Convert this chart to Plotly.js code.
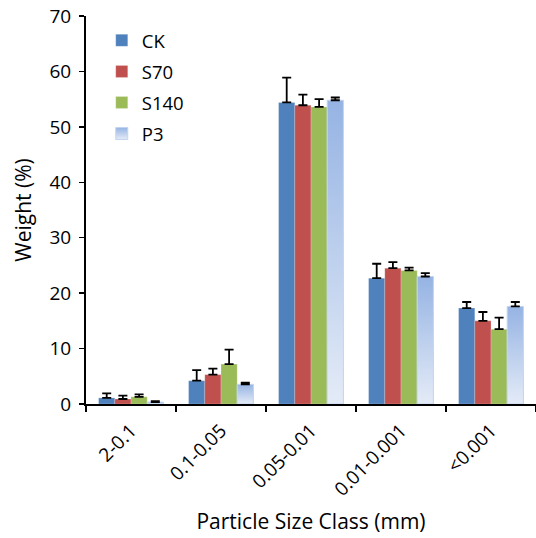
<!DOCTYPE html>
<html><head><meta charset="utf-8">
<script src="https://cdn.plot.ly/plotly-3.0.1.min.js"></script>
<style>html,body{margin:0;padding:0;background:#fff}#chart{width:536px;height:538px}</style>
</head><body><div id="chart"></div>
<script>
const categories = ['2-0.1','0.1-0.05','0.05-0.01','0.01-0.001','<0.001'];
const seriesNames = ['CK','S70','S140','P3'];
const ckValues   = [1.1, 4.2, 54.4, 22.7, 17.3];
const ckErrors   = [0.8, 1.9, 4.5, 2.6, 1.1];
const s70Values  = [0.9, 5.3, 53.9, 24.5, 15.0];
const s70Errors  = [0.6, 1.1, 1.9, 1.1, 1.6];
const s140Values = [1.3, 7.2, 53.6, 24.1, 13.5];
const s140Errors = [0.45, 2.6, 1.4, 0.5, 2.1];
const p3Values   = [0.35, 3.55, 54.8, 23.0, 17.6];
const p3Errors   = [0.15, 0.3, 0.5, 0.6, 0.8];
const colors = ['#4f81bd','#c0504d','#9bbb59','#b4c8ea'];

const vals = [ckValues, s70Values, s140Values, p3Values];
const errs = [ckErrors, s70Errors, s140Errors, p3Errors];
const FONT = '"Open Sans", "Noto Sans", sans-serif';

const traces = seriesNames.map((n,i)=>({
  type:'bar', name:n, x:categories, y:vals[i], legendgroup:'g'+i,
  marker:{color:colors[i], line:{color: i===3 ? '#c3d4ee' : 'rgba(255,255,255,0.35)', width: i===3?1:0.6}},
  error_y:{type:'data', array:errs[i], arrayminus:errs[i].map(()=>0), symmetric:false, color:'#000', thickness:1.8, width:4.5}
}));

const layout = {
  width:536, height:538,
  margin:{l:86, r:0, t:16, b:134},
  paper_bgcolor:'#fff', plot_bgcolor:'#fff',
  font:{family:FONT, color:'#000', size:18},
  barmode:'group', bargap:0.28, bargroupgap:0,
  showlegend:true,
  legend:{x:0.035, y:0.985, xanchor:'left', yanchor:'top', font:{size:18.5, family:FONT}, traceorder:'grouped', tracegroupgap:4, bgcolor:'rgba(0,0,0,0)'},
  xaxis:{
    type:'category', showline:true, linecolor:'#000', linewidth:2,
    ticks:'outside', tickson:'boundaries', ticklen:6, tickwidth:2, tickcolor:'#000',
    tickangle:-45, tickfont:{size:19, family:FONT}, ticklabelstandoff:6,
    title:{text:'Particle Size Class (mm)', font:{size:21, family:FONT}, standoff:14},
    showgrid:false, zeroline:false
  },
  yaxis:{
    range:[0,70], dtick:10, showline:true, linecolor:'#000', linewidth:2,
    ticks:'outside', ticklen:5, tickwidth:1.5, tickcolor:'#000',
    tickfont:{size:19, family:FONT}, ticklabelstandoff:4,
    title:{text:'Weight (%)', font:{size:21, family:FONT}, standoff:12},
    showgrid:false, zeroline:false
  }
};

Plotly.newPlot('chart', traces, layout, {displayModeBar:false, staticPlot:true}).then(gd=>{
  const NS='http://www.w3.org/2000/svg';
  const svg = gd.querySelector('svg.main-svg');
  let defs = svg.querySelector('defs');
  if(!defs){defs=document.createElementNS(NS,'defs'); svg.insertBefore(defs, svg.firstChild);}
  const g = document.createElementNS(NS,'linearGradient');
  g.setAttribute('id','p3grad'); g.setAttribute('x1','0'); g.setAttribute('y1','0'); g.setAttribute('x2','0'); g.setAttribute('y2','1');
  [['0','#95b3e3'],['1','#e4ebf7']].forEach(([o,c])=>{const s=document.createElementNS(NS,'stop'); s.setAttribute('offset',o); s.setAttribute('stop-color',c); g.appendChild(s);});
  defs.appendChild(g);
  const barTraces = gd.querySelectorAll('.barlayer .trace');
  if(barTraces[3]) barTraces[3].querySelectorAll('path').forEach(p=>{p.style.fill='url(#p3grad)';});
  const legTraces = gd.querySelectorAll('.legend .traces');
  if(legTraces[3]) legTraces[3].querySelectorAll('.legendpoints path').forEach(p=>{p.style.fill='url(#p3grad)';});
});
</script></body></html>
